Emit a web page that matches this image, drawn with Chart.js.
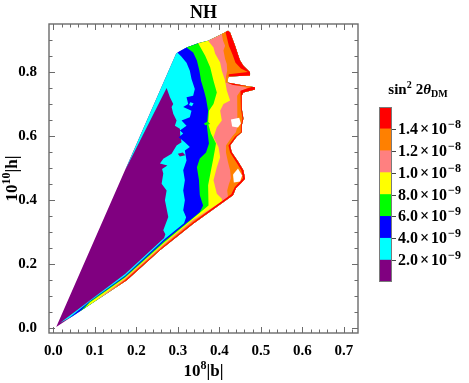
<!DOCTYPE html>
<html>
<head>
<meta charset="utf-8">
<script src="https://cdn.jsdelivr.net/npm/chart.js@4/dist/chart.umd.min.js"></script>
<style>
  html, body { margin: 0; padding: 0; background: #fff; }
  #wrap { position: relative; width: 469px; height: 383px; }
  #wrap canvas { position: absolute; left: 0; top: 0; }
</style>
</head>
<body>
<div id="wrap">
  <canvas id="plot" width="469" height="383"></canvas>
  <canvas id="bar" width="469" height="383"></canvas>
</div>
<script>
// contour levels of sin^2(2 theta_DM)
const levels = [0, 2e-9, 4e-9, 6e-9, 8e-9, 1.0e-8, 1.2e-8, 1.4e-8, 1.6e-8];
const levelMantissa = ['2.0', '4.0', '6.0', '8.0', '1.0', '1.2', '1.4'];
const levelExponent = ['9', '9', '9', '9', '8', '8', '8'];
const bandColors = ['#800080', '#00ffff', '#0000ff', '#00ff00', '#ffff00', '#ff8080', '#ff8000', '#ff0000'];

// plot range and ticks (10^8|b| on x, 10^10|h| on y)
const xRange = [-0.0104, 0.7342];
const yRange = [-0.0166, 0.9514];
const xMajorTicks = [0, 0.1, 0.2, 0.3, 0.4, 0.5, 0.6, 0.7];
const xMinorTicks = [0.02, 0.04, 0.06, 0.08, 0.12, 0.14, 0.16, 0.18, 0.22, 0.24, 0.26, 0.28,
  0.32, 0.34, 0.36, 0.38, 0.42, 0.44, 0.46, 0.48, 0.52, 0.54, 0.56, 0.58, 0.62, 0.64, 0.66, 0.68, 0.72];
const yMajorTicks = [0, 0.2, 0.4, 0.6, 0.8];
const yMinorTicks = [0.05, 0.1, 0.15, 0.25, 0.3, 0.35, 0.45, 0.5, 0.55, 0.65, 0.7, 0.75, 0.85, 0.9];

// outline of the scanned region
const lowerEdge = [[0.007, 0.002], [0.047, 0.037], [0.096, 0.079], [0.177, 0.149], [0.257, 0.243], [0.337, 0.326], [0.433, 0.415]];
const topEdge = [[0.296, 0.859], [0.321, 0.878], [0.349, 0.891], [0.373, 0.899], [0.406, 0.920], [0.421, 0.930]];
const rightEdge = [[0.421, 0.930], [0.426, 0.925], [0.438, 0.883], [0.446, 0.852], [0.450, 0.837], [0.458, 0.821],
  [0.474, 0.800], [0.474, 0.790], [0.422, 0.787], [0.419, 0.768], [0.462, 0.758], [0.486, 0.753], [0.486, 0.746],
  [0.458, 0.737], [0.454, 0.727], [0.454, 0.687], [0.458, 0.655], [0.454, 0.633], [0.454, 0.612], [0.442, 0.599],
  [0.426, 0.571], [0.430, 0.550], [0.446, 0.519], [0.458, 0.493], [0.462, 0.467], [0.454, 0.455], [0.440, 0.437],
  [0.433, 0.415]];

// lower boundary of each level (from the top of the region down, then along the thin strip by the lower edge)
const cyanEdge = [[0.173, 0.493], [0.273, 0.751], [0.281, 0.722], [0.289, 0.701], [0.285, 0.691], [0.289, 0.670],
  [0.297, 0.649], [0.293, 0.633], [0.305, 0.623], [0.306, 0.602], [0.309, 0.581], [0.297, 0.571], [0.285, 0.545],
  [0.265, 0.529], [0.257, 0.514], [0.275, 0.508], [0.262, 0.497], [0.265, 0.483], [0.261, 0.451], [0.273, 0.430],
  [0.269, 0.399], [0.277, 0.347], [0.265, 0.305], [0.270, 0.293], [0.267, 0.281], [0.173, 0.168], [0.088, 0.085],
  [0.016, 0.015]];
const blueEdge = [[0.299, 0.862], [0.309, 0.849], [0.321, 0.830], [0.329, 0.805], [0.333, 0.779], [0.341, 0.748],
  [0.337, 0.727], [0.321, 0.722], [0.325, 0.701], [0.313, 0.691], [0.333, 0.680], [0.329, 0.659], [0.309, 0.649],
  [0.321, 0.633], [0.305, 0.618], [0.313, 0.608], [0.302, 0.597], [0.317, 0.581], [0.329, 0.566], [0.317, 0.555],
  [0.321, 0.524], [0.313, 0.493], [0.317, 0.462], [0.313, 0.430], [0.317, 0.399], [0.313, 0.368], [0.320, 0.346],
  [0.315, 0.327], [0.267, 0.276], [0.173, 0.163], [0.088, 0.083], [0.035, 0.027]];
const greenEdge = [[0.321, 0.878], [0.337, 0.862], [0.346, 0.837], [0.352, 0.805], [0.356, 0.774], [0.363, 0.743],
  [0.368, 0.718], [0.373, 0.680], [0.370, 0.633], [0.375, 0.577], [0.368, 0.549], [0.353, 0.530], [0.346, 0.503],
  [0.351, 0.462], [0.353, 0.415], [0.361, 0.383], [0.353, 0.362], [0.267, 0.271], [0.173, 0.160], [0.088, 0.081],
  [0.064, 0.051]];
const yellowEdge = [[0.349, 0.891], [0.366, 0.852], [0.378, 0.816], [0.386, 0.774], [0.394, 0.737], [0.386, 0.701],
  [0.375, 0.680], [0.373, 0.640], [0.380, 0.608], [0.392, 0.577], [0.386, 0.533], [0.380, 0.493], [0.373, 0.446],
  [0.373, 0.408], [0.375, 0.383], [0.267, 0.267], [0.173, 0.157], [0.088, 0.079], [0.076, 0.062]];
const pinkEdge = [[0.373, 0.899], [0.386, 0.878], [0.390, 0.858], [0.402, 0.831], [0.406, 0.805], [0.414, 0.774],
  [0.418, 0.743], [0.426, 0.712], [0.410, 0.701], [0.402, 0.680], [0.406, 0.649], [0.394, 0.628], [0.386, 0.597],
  [0.398, 0.566], [0.402, 0.534], [0.394, 0.503], [0.386, 0.462], [0.394, 0.420], [0.406, 0.404], [0.407, 0.396],
  [0.337, 0.338], [0.267, 0.263], [0.173, 0.154], [0.100, 0.083]];
const orangeEdge = [[0.406, 0.920], [0.409, 0.899], [0.414, 0.883], [0.410, 0.868], [0.414, 0.842], [0.418, 0.826],
  [0.419, 0.805], [0.416, 0.787], [0.415, 0.768], [0.431, 0.762], [0.469, 0.752], [0.450, 0.740], [0.443, 0.727],
  [0.443, 0.687], [0.445, 0.655], [0.443, 0.630], [0.440, 0.612], [0.431, 0.599], [0.416, 0.571], [0.416, 0.549],
  [0.421, 0.518], [0.426, 0.493], [0.428, 0.468], [0.423, 0.449], [0.419, 0.430], [0.421, 0.408], [0.337, 0.334],
  [0.267, 0.260], [0.173, 0.151], [0.125, 0.104]];
const redEdge = [[0.415, 0.926], [0.423, 0.883], [0.432, 0.855], [0.439, 0.830], [0.452, 0.812], [0.469, 0.801],
  [0.423, 0.794], [0.422, 0.787], [0.419, 0.768], [0.433, 0.760], [0.479, 0.755], [0.451, 0.742], [0.452, 0.727],
  [0.452, 0.687], [0.456, 0.655], [0.452, 0.633], [0.452, 0.612], [0.438, 0.599], [0.422, 0.571], [0.426, 0.549],
  [0.441, 0.518], [0.453, 0.493], [0.457, 0.468], [0.450, 0.458], [0.437, 0.440], [0.429, 0.418], [0.337, 0.330],
  [0.267, 0.257], [0.173, 0.149], [0.149, 0.125]];
const levelEdges = [cyanEdge, blueEdge, greenEdge, yellowEdge, pinkEdge, orangeEdge, redEdge];

// small patches inside the bands: [band index, outline]
const patches = [
  [1, [[0.325, 0.745], [0.333, 0.741], [0.331, 0.732], [0.324, 0.735]]],
  [1, [[0.330, 0.706], [0.338, 0.703], [0.334, 0.694], [0.327, 0.698]]],
  [0, [[0.300, 0.545], [0.312, 0.549], [0.318, 0.540], [0.305, 0.536]]],
  [2, [[0.345, 0.720], [0.352, 0.724], [0.356, 0.716], [0.349, 0.712]]],
  [3, [[0.363, 0.640], [0.372, 0.646], [0.378, 0.638], [0.366, 0.634]]]
];

// unsampled gaps inside the region
const holes = [
  [[0.428, 0.652], [0.448, 0.658], [0.452, 0.640], [0.445, 0.627], [0.431, 0.630]],
  [[0.433, 0.480], [0.445, 0.499], [0.455, 0.477], [0.450, 0.458], [0.435, 0.455]]
];

const serif = "'Liberation Serif', 'Times New Roman', serif";
const frameColor = '#6b6b6b';

function toPoints(list) {
  return list.map(p => ({ x: p[0], y: p[1] }));
}

// area where the value is above a level: its edge, then the lower edge, right edge and top edge of the region
function levelArea(edge) {
  const start = edge[0];
  const tip = edge[edge.length - 1];
  const pts = edge
    .concat(lowerEdge.filter(p => p[0] > tip[0]))
    .concat(rightEdge.slice().reverse())
    .concat(topEdge.filter(p => p[0] > start[0]).reverse());
  return toPoints(pts);
}

function areaDataset(points, color, order) {
  return {
    data: points,
    showLine: true,
    fill: 'shape',
    backgroundColor: color,
    borderWidth: 0,
    pointRadius: 0,
    tension: 0,
    order: order
  };
}

const datasets = [];
const outline = lowerEdge.concat(rightEdge.slice().reverse()).concat(topEdge.slice().reverse());
datasets.push(areaDataset(toPoints(outline), bandColors[0], 20));
levelEdges.forEach((edge, i) => {
  datasets.push(areaDataset(levelArea(edge), bandColors[i + 1], 19 - i));
});
patches.forEach(p => datasets.push(areaDataset(toPoints(p[1]), bandColors[p[0]], 1)));
holes.forEach(h => datasets.push(areaDataset(toPoints(h), '#ffffff', 0)));

// draw text pieces in a row: [text, font, dy, gapAfter]
function drawPieces(ctx, pieces, x, y, centered) {
  let w = 0;
  pieces.forEach(p => { ctx.font = p[1]; w += ctx.measureText(p[0]).width + (p[3] || 0); });
  let cx = centered ? x - w / 2 : x;
  pieces.forEach(p => {
    ctx.font = p[1];
    ctx.fillText(p[0], cx, y + p[2]);
    cx += ctx.measureText(p[0]).width + (p[3] || 0);
  });
}

const framePlugin = {
  id: 'frame',
  afterDraw(chart) {
    const { ctx, chartArea: a, scales } = chart;
    ctx.save();
    ctx.strokeStyle = frameColor;
    ctx.lineWidth = 1.4;
    ctx.strokeRect(a.left, a.top, a.right - a.left, a.bottom - a.top);

    ctx.lineWidth = 1;
    ctx.beginPath();
    const xMarks = (vals, len) => vals.forEach(v => {
      const px = Math.round(scales.x.getPixelForValue(v)) + 0.5;
      ctx.moveTo(px, a.bottom); ctx.lineTo(px, a.bottom - len);
      ctx.moveTo(px, a.top); ctx.lineTo(px, a.top + len);
    });
    const yMarks = (vals, len) => vals.forEach(v => {
      const py = Math.round(scales.y.getPixelForValue(v)) + 0.5;
      ctx.moveTo(a.left, py); ctx.lineTo(a.left + len, py);
      ctx.moveTo(a.right, py); ctx.lineTo(a.right - len, py);
    });
    xMarks(xMajorTicks, 6);
    xMarks(xMinorTicks, 3.5);
    yMarks(yMajorTicks, 6);
    yMarks(yMinorTicks, 3.5);
    ctx.stroke();

    // axis titles
    ctx.fillStyle = '#000';
    ctx.textBaseline = 'alphabetic';
    ctx.textAlign = 'left';
    const big = 'bold 17px ' + serif;
    const sup = 'bold 12px ' + serif;
    drawPieces(ctx, [['10', big, 0], ['8', sup, -7], ['|b|', big, 0]], (a.left + a.right) / 2, 376, true);
    ctx.translate(16.5, (a.top + a.bottom) / 2);
    ctx.rotate(-Math.PI / 2);
    drawPieces(ctx, [['10', big, 0], ['10', sup, -7], ['|h|', big, 0]], 0, 0, true);
    ctx.restore();
  }
};

new Chart(document.getElementById('plot'), {
  type: 'scatter',
  data: { datasets: datasets },
  options: {
    responsive: false,
    animation: false,
    events: [],
    layout: { padding: { left: 0, right: 111, top: 0, bottom: 0 } },
    plugins: {
      legend: { display: false },
      tooltip: { enabled: false },
      title: {
        display: true,
        text: 'NH',
        fullSize: false,
        color: '#000',
        font: { family: serif, size: 18, weight: 'bold', lineHeight: 1 },
        padding: { top: 4, bottom: 2 }
      }
    },
    scales: {
      x: {
        type: 'linear',
        min: xRange[0],
        max: xRange[1],
        grid: { display: false },
        border: { display: false },
        afterBuildTicks: s => { s.ticks = xMajorTicks.map(v => ({ value: v })); },
        afterFit: s => { s.height = 50; },
        ticks: {
          autoSkip: false,
          maxRotation: 0,
          padding: 1,
          color: '#000',
          font: { family: serif, size: 15, weight: 'bold' },
          callback: v => v.toFixed(1)
        }
      },
      y: {
        type: 'linear',
        min: yRange[0],
        max: yRange[1],
        grid: { display: false },
        border: { display: false },
        afterBuildTicks: s => { s.ticks = yMajorTicks.map(v => ({ value: v })); },
        afterFit: s => { s.width = 49; },
        ticks: {
          autoSkip: false,
          padding: 4,
          color: '#000',
          font: { family: serif, size: 15, weight: 'bold' },
          callback: v => v.toFixed(1)
        }
      }
    }
  },
  plugins: [framePlugin]
});

// colour bar legend
const barPlugin = {
  id: 'barFrame',
  afterDraw(chart) {
    const { ctx, chartArea: a, scales } = chart;
    ctx.save();
    ctx.strokeStyle = '#7a7a7a';
    ctx.lineWidth = 1;
    ctx.strokeRect(a.left + 0.5, a.top + 0.5, a.right - a.left - 1, a.bottom - a.top - 1);
    ctx.strokeStyle = '#444';
    ctx.beginPath();
    levels.slice(1, -1).forEach(v => {
      const py = Math.round(scales.y.getPixelForValue(v)) + 0.5;
      ctx.moveTo(a.right, py); ctx.lineTo(a.right + 4, py);
    });
    ctx.stroke();

    ctx.fillStyle = '#000';
    ctx.textAlign = 'left';
    ctx.textBaseline = 'alphabetic';
    const big = 'bold 16px ' + serif;
    const sup = 'bold 12px ' + serif;
    levels.slice(1, -1).forEach((v, i) => {
      const py = scales.y.getPixelForValue(v) + 5;
      drawPieces(ctx, [[levelMantissa[i], big, 0, 2], ['\u00d7', big, 0, 2], ['10', big, 0, 1],
        ['\u2212' + levelExponent[i], sup, -6]], a.right + 6, py, false);
    });

    const title = 'bold 15px ' + serif;
    const small = 'bold 10px ' + serif;
    drawPieces(ctx, [['sin', title, 0], ['2', small, -6, 4], ['2', title, 0], ['\u03b8', 'italic bold 15px ' + serif, 0],
      ['DM', small, 3]], 418, 94, true);
    ctx.restore();
  }
};

new Chart(document.getElementById('bar'), {
  type: 'bar',
  data: {
    labels: [''],
    datasets: bandColors.map((c, i) => ({
      data: [[levels[i], levels[i + 1]]],
      backgroundColor: c,
      borderWidth: 0,
      barPercentage: 1,
      categoryPercentage: 1,
      grouped: false
    }))
  },
  options: {
    responsive: false,
    animation: false,
    events: [],
    layout: { padding: { left: 379, right: 77, top: 107, bottom: 101 } },
    plugins: { legend: { display: false }, tooltip: { enabled: false } },
    scales: {
      x: { display: false },
      y: { display: false, min: levels[0], max: levels[levels.length - 1] }
    }
  },
  plugins: [barPlugin]
});
</script>
</body>
</html>
